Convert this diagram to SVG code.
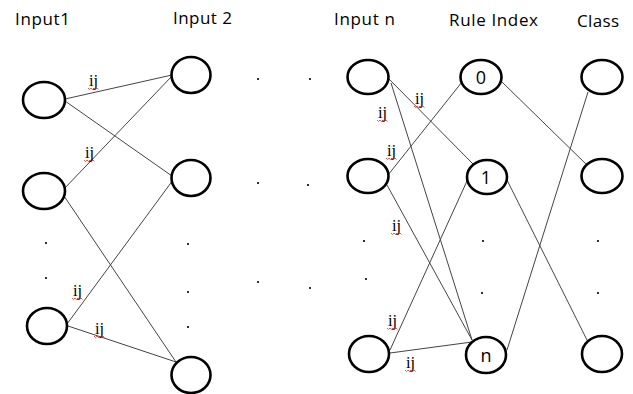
<svg xmlns="http://www.w3.org/2000/svg" width="633" height="394" viewBox="0 0 633 394">
<style>
.n{fill:#fff;stroke:#000;stroke-width:2.6}
.h{font-family:"Open Sans","Liberation Sans",sans-serif;font-size:17px;fill:#000}
.t{font-family:"Open Sans","Liberation Sans",sans-serif;font-size:18px;fill:#000;text-anchor:middle}
.ij{font-family:"Liberation Serif",serif;font-size:16.5px;fill:#000}
.sq{fill:none;stroke:#d33;stroke-width:0.8}
.c line{stroke:#444;stroke-width:1}
.d{fill:#000}
</style>
<rect width="633" height="394" fill="#fff"/>
<g id="headers">
<text class="h" x="15" y="25" textLength="55">Input1</text>
<text class="h" x="173" y="24" textLength="59">Input 2</text>
<text class="h" x="334" y="25" textLength="61">Input n</text>
<text class="h" x="449" y="26" textLength="89">Rule Index</text>
<text class="h" x="577" y="27" textLength="42">Class</text>
</g>
<g class="c" id="connectors">
<line x1="65" y1="99" x2="172" y2="75"/>
<line x1="65" y1="101" x2="172" y2="176"/>
<line x1="63" y1="190" x2="172" y2="76"/>
<line x1="64" y1="196" x2="176" y2="362"/>
<line x1="67" y1="324" x2="173" y2="180"/>
<line x1="68" y1="326" x2="176" y2="362"/>
<line x1="388" y1="78" x2="474" y2="165"/>
<line x1="391" y1="83" x2="472" y2="340"/>
<line x1="387" y1="185" x2="472" y2="340"/>
<line x1="388" y1="175" x2="462" y2="82"/>
<line x1="390" y1="350" x2="467" y2="181"/>
<line x1="390" y1="353" x2="472" y2="342"/>
<line x1="502" y1="82" x2="588" y2="166"/>
<line x1="507" y1="180" x2="587" y2="340"/>
<line x1="507" y1="350" x2="588" y2="92"/>
</g>
<g id="input1-1"><ellipse class="n" cx="44" cy="100" rx="21" ry="18"/></g>
<g id="input1-2"><ellipse class="n" cx="44" cy="191" rx="21" ry="18"/></g>
<g id="input1-3"><ellipse class="n" cx="47" cy="326" rx="20" ry="18"/></g>
<g id="input2-1"><ellipse class="n" cx="191" cy="75" rx="19.5" ry="18"/></g>
<g id="input2-2"><ellipse class="n" cx="191" cy="178" rx="19.5" ry="18"/></g>
<g id="input2-3"><ellipse class="n" cx="191" cy="375" rx="19.5" ry="18"/></g>
<g id="inputn-1"><ellipse class="n" cx="368" cy="77" rx="20.5" ry="17"/></g>
<g id="inputn-2"><ellipse class="n" cx="368" cy="176" rx="20.5" ry="17"/></g>
<g id="inputn-3"><ellipse class="n" cx="369" cy="354" rx="20" ry="18"/></g>
<g id="rule-0"><ellipse class="n" cx="481" cy="77" rx="20.5" ry="17"/><text class="t" x="481" y="84">0</text></g>
<g id="rule-1"><ellipse class="n" cx="487" cy="177" rx="20" ry="17"/><text class="t" x="486" y="184">1</text></g>
<g id="rule-n"><ellipse class="n" cx="486" cy="355" rx="20" ry="18"/><text class="t" x="486" y="362">n</text></g>
<g id="class-1"><ellipse class="n" cx="602" cy="77" rx="20.5" ry="17"/></g>
<g id="class-2"><ellipse class="n" cx="602" cy="176" rx="20.5" ry="17"/></g>
<g id="class-3"><ellipse class="n" cx="602" cy="354" rx="20" ry="18"/></g>
<g id="labels">
<text class="ij" x="89" y="86">ij</text>
<text class="ij" x="85" y="158">ij</text>
<text class="ij" x="73" y="296">ij</text>
<text class="ij" x="95" y="334">ij</text>
<text class="ij" x="415" y="104">ij</text>
<text class="ij" x="378" y="118">ij</text>
<text class="ij" x="387" y="156">ij</text>
<text class="ij" x="392" y="231">ij</text>
<text class="ij" x="388" y="326">ij</text>
<text class="ij" x="406" y="368">ij</text>
</g>
<g id="squiggles">
<path class="sq" d="M88 88 l1.5 1.5 l1.5 -1.5 l1.5 1.5 l1.5 -1.5 l1.5 1.5 l1.5 -1.5 l1.5 1.5"/>
<path class="sq" d="M84 160 l1.5 1.5 l1.5 -1.5 l1.5 1.5 l1.5 -1.5 l1.5 1.5 l1.5 -1.5 l1.5 1.5"/>
<path class="sq" d="M72 298 l1.5 1.5 l1.5 -1.5 l1.5 1.5 l1.5 -1.5 l1.5 1.5 l1.5 -1.5 l1.5 1.5"/>
<path class="sq" d="M94 336 l1.5 1.5 l1.5 -1.5 l1.5 1.5 l1.5 -1.5 l1.5 1.5 l1.5 -1.5 l1.5 1.5"/>
<path class="sq" d="M414 106 l1.5 1.5 l1.5 -1.5 l1.5 1.5 l1.5 -1.5 l1.5 1.5 l1.5 -1.5 l1.5 1.5"/>
<path class="sq" d="M377 120 l1.5 1.5 l1.5 -1.5 l1.5 1.5 l1.5 -1.5 l1.5 1.5 l1.5 -1.5 l1.5 1.5"/>
<path class="sq" d="M386 158 l1.5 1.5 l1.5 -1.5 l1.5 1.5 l1.5 -1.5 l1.5 1.5 l1.5 -1.5 l1.5 1.5"/>
<path class="sq" d="M391 233 l1.5 1.5 l1.5 -1.5 l1.5 1.5 l1.5 -1.5 l1.5 1.5 l1.5 -1.5 l1.5 1.5"/>
<path class="sq" d="M387 328 l1.5 1.5 l1.5 -1.5 l1.5 1.5 l1.5 -1.5 l1.5 1.5 l1.5 -1.5 l1.5 1.5"/>
<path class="sq" d="M405 370 l1.5 1.5 l1.5 -1.5 l1.5 1.5 l1.5 -1.5 l1.5 1.5 l1.5 -1.5 l1.5 1.5"/>
</g>
<g id="dots">
<circle class="d" cx="258" cy="79" r="1.1"/><circle class="d" cx="310" cy="79" r="1.1"/>
<circle class="d" cx="258" cy="183" r="1.1"/><circle class="d" cx="308" cy="185" r="1.1"/>
<circle class="d" cx="46" cy="243" r="1.1"/><circle class="d" cx="46" cy="278" r="1.1"/>
<circle class="d" cx="188" cy="244" r="1.1"/><circle class="d" cx="188" cy="292" r="1.1"/><circle class="d" cx="188" cy="327" r="1.1"/>
<circle class="d" cx="258" cy="282" r="1.1"/><circle class="d" cx="310" cy="288" r="1.1"/>
<circle class="d" cx="364" cy="241" r="1.1"/><circle class="d" cx="366" cy="279" r="1.1"/>
<circle class="d" cx="483" cy="241" r="1.1"/><circle class="d" cx="482" cy="293" r="1.1"/>
<circle class="d" cx="598" cy="241" r="1.1"/><circle class="d" cx="598" cy="293" r="1.1"/>
</g>
</svg>
